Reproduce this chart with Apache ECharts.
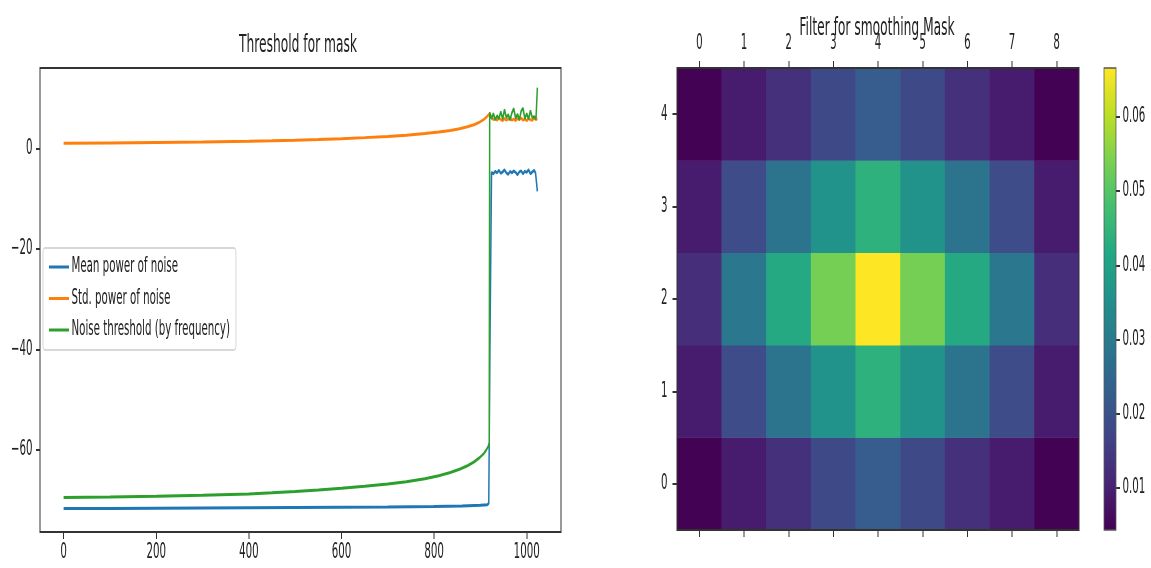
<!DOCTYPE html>
<html>
<head>
<meta charset="utf-8">
<script src="https://cdn.jsdelivr.net/npm/echarts@6/dist/echarts.min.js"></script>
<style>
html,body{margin:0;padding:0;background:#fff;overflow:hidden;width:1151px;height:568px}
#wrap{width:1151px;height:568px;overflow:hidden;position:relative;background:#fff}
#chart{position:absolute;left:0;top:0;height:568px;transform-origin:0 0}
</style>
</head>
<body>
<div id="wrap"><div id="chart"></div></div>
<script>
// ---------------- data ----------------
const meanPower = [[0,-71.7],[100,-71.7],[200,-71.65],[300,-71.6],[400,-71.55],[500,-71.5],[600,-71.45],[700,-71.4],[800,-71.3],[860,-71.2],[900,-71.05],[915,-70.95],[918,-70.7],[921,-35.0],[924,-4.7],[928,-5.0],[932,-4.5],[936,-4.8],[940,-4.3],[944,-4.9],[948,-4.6],[952,-4.2],[956,-4.8],[960,-5.1],[964,-4.5],[968,-4.8],[972,-4.4],[976,-4.7],[980,-5.2],[984,-4.6],[988,-4.4],[992,-5.0],[996,-4.5],[1000,-4.7],[1004,-4.2],[1008,-5.0],[1012,-4.6],[1016,-4.3],[1019,-4.8],[1021,-5.0],[1023,-8.5]];
const stdPower = [[0,1.1],[100,1.17],[200,1.26],[300,1.37],[400,1.51],[450,1.6],[500,1.71],[550,1.85],[600,2.02],[650,2.22],[700,2.46],[740,2.7],[780,3.02],[810,3.32],[835,3.65],[855,4.0],[872,4.38],[886,4.8],[898,5.3],[907,5.8],[913,6.3],[917,6.7],[920,7.1],[924,6.3],[928,5.8],[932,6.0],[936,5.7],[940,6.1],[944,5.8],[948,5.6],[952,6.0],[956,5.7],[960,5.9],[964,6.2],[968,5.7],[972,5.9],[976,5.6],[980,6.0],[984,5.8],[988,6.1],[992,5.7],[996,5.9],[1000,5.6],[1004,6.0],[1008,5.8],[1012,5.7],[1016,6.1],[1020,5.8],[1023,6.0]];
const noiseThreshold = [[0,-69.5],[100,-69.42],[200,-69.28],[300,-69.08],[400,-68.8],[450,-68.6],[500,-68.35],[550,-68.05],[600,-67.7],[650,-67.3],[700,-66.85],[740,-66.4],[780,-65.8],[810,-65.2],[835,-64.55],[855,-63.9],[872,-63.2],[886,-62.45],[898,-61.6],[907,-60.8],[913,-60.0],[917,-59.3],[919,-58.6],[920,7.2],[924,6.0],[928,7.0],[932,5.8],[936,6.6],[940,6.0],[944,7.4],[948,5.9],[952,7.8],[956,6.2],[960,6.8],[964,5.7],[968,7.2],[972,8.0],[976,6.1],[980,6.9],[984,5.8],[988,7.5],[992,8.1],[996,6.0],[1000,7.0],[1004,5.9],[1008,7.6],[1012,6.2],[1016,6.4],[1020,6.0],[1023,12.2]];
const seriesNames = ['Mean power of noise','Std. power of noise','Noise threshold (by frequency)'];
const lineXTicks = [0,200,400,600,800,1000];
const lineYTicks = [-60,-40,-20,0];

const maskCols = ['0','1','2','3','4','5','6','7','8'];
const maskRowLabels = ['0','1','2','3','4'];
const maskRow0 = [0.0045,0.0090,0.0128,0.0182,0.0225,0.0182,0.0128,0.0090,0.0045];
const maskRow1 = [0.0090,0.0185,0.0280,0.0360,0.0440,0.0360,0.0280,0.0185,0.0090];
const maskRow2 = [0.0125,0.0290,0.0420,0.0535,0.0666,0.0535,0.0420,0.0290,0.0125];
const maskRow3 = [0.0090,0.0185,0.0280,0.0360,0.0440,0.0360,0.0280,0.0185,0.0090];
const maskRow4 = [0.0045,0.0090,0.0128,0.0182,0.0225,0.0182,0.0128,0.0090,0.0045];
const colorbarTicks = [0.01,0.02,0.03,0.04,0.05,0.06];
const colorMin = 0.0043, colorMax = 0.0666;

// ---------------- build ----------------
const viridis = ['#440154','#482475','#414487','#355f8d','#2a788e','#21918c','#22a884','#44bf70','#7ad151','#bddf26','#fde725'];
const maskRows = [maskRow0,maskRow1,maskRow2,maskRow3,maskRow4];
const heatData = [];
maskRows.forEach((row, r) => row.forEach((v, c) => heatData.push([c, r, v])));

const S = 0.5; // the reference figure is horizontally compressed
const X = v => v / S;
const el = document.getElementById('chart');
el.style.width = (1151 / S) + 'px';
el.style.transform = 'scaleX(' + S + ')';

const FONT = 'DejaVu Sans';
const TXT = '#222';
const FS = 20.5;
const tickStyle = {color:'#333', width:2};
const minus = v => String(v).replace('-', '\u2212');

const chart = echarts.init(el, null, {renderer:'canvas'});
chart.setOption({
  animation:false,
  backgroundColor:'#fff',
  textStyle:{fontFamily:FONT},
  title:[
    {text:'Threshold for mask', left:X(298), top:33, textAlign:'center', padding:0,
     textStyle:{fontSize:24.5, fontWeight:'normal', color:TXT, fontFamily:FONT}},
    {text:'Filter for smoothing Mask', left:X(877), top:16, textAlign:'center', padding:0,
     textStyle:{fontSize:24.5, fontWeight:'normal', color:TXT, fontFamily:FONT}}
  ],
  legend:{
    data:seriesNames, orient:'vertical', left:X(43), top:248,
    padding:[8,12,9,12], itemGap:9.5, itemWidth:40, itemHeight:3, icon:'rect',
    textStyle:{fontSize:FS, color:TXT, lineHeight:22, fontFamily:FONT},
    borderColor:'#ccc', borderWidth:1.5, borderRadius:4, backgroundColor:'rgba(255,255,255,0.85)'
  },
  grid:[
    {left:X(40), top:68, width:X(521), height:464, show:true, borderColor:'#333', borderWidth:2, backgroundColor:'transparent', z:10},
    {left:X(677), top:68, width:X(402), height:462, show:true, borderColor:'#333', borderWidth:2, backgroundColor:'transparent', z:10},
    {left:X(1104), top:68, width:X(12), height:462, show:true, borderColor:'#555', borderWidth:1.5, backgroundColor:'transparent', z:10}
  ],
  xAxis:[
    {gridIndex:0, type:'value', min:-51, max:1074, axisLine:{show:false, onZero:false}, splitLine:{show:false},
     axisTick:{show:true, length:7, lineStyle:tickStyle, customValues:lineXTicks},
     axisLabel:{customValues:lineXTicks, margin:10, fontSize:FS, color:TXT, fontFamily:FONT, formatter:v => String(v)}},
    {gridIndex:1, type:'category', position:'top', data:maskCols, axisLine:{show:false, onZero:false}, splitLine:{show:false},
     axisTick:{show:true, alignWithLabel:true, interval:0, length:7, lineStyle:tickStyle},
     axisLabel:{interval:0, margin:14, fontSize:FS, color:TXT, fontFamily:FONT}},
    {gridIndex:1, type:'category', position:'bottom', data:maskCols, axisLine:{show:false, onZero:false}, splitLine:{show:false},
     axisTick:{show:true, alignWithLabel:true, interval:0, length:7, lineStyle:tickStyle},
     axisLabel:{show:false}},
    {gridIndex:2, type:'category', data:['colorbar'], show:false}
  ],
  yAxis:[
    {gridIndex:0, type:'value', min:-76.4, max:16.1, axisLine:{show:false, onZero:false}, splitLine:{show:false},
     axisTick:{show:true, length:8, lineStyle:tickStyle, customValues:lineYTicks},
     axisLabel:{customValues:lineYTicks, margin:15, fontSize:FS, color:TXT, fontFamily:FONT, formatter:minus}},
    {gridIndex:1, type:'category', data:maskRowLabels, axisLine:{show:false, onZero:false}, splitLine:{show:false},
     axisTick:{show:true, alignWithLabel:true, interval:0, length:9, lineStyle:tickStyle},
     axisLabel:{interval:0, margin:19, fontSize:FS, color:TXT, fontFamily:FONT}},
    {gridIndex:2, type:'value', position:'right', min:colorMin, max:colorMax, axisLine:{show:false, onZero:false}, splitLine:{show:false},
     axisTick:{show:true, length:8, lineStyle:tickStyle, customValues:colorbarTicks},
     axisLabel:{customValues:colorbarTicks, margin:13, fontSize:FS, color:TXT, fontFamily:FONT,
                formatter:v => v.toFixed(2)}}
  ],
  visualMap:{show:false, min:colorMin, max:colorMax, seriesIndex:3, dimension:2, inRange:{color:viridis}},
  series:[
    {name:seriesNames[0], type:'line', xAxisIndex:0, yAxisIndex:0, data:meanPower, symbol:'none', showSymbol:false,
     color:'#1f77b4', lineStyle:{width:3, color:'#1f77b4'}, z:2},
    {name:seriesNames[1], type:'line', xAxisIndex:0, yAxisIndex:0, data:stdPower, symbol:'none', showSymbol:false,
     color:'#ff7f0e', lineStyle:{width:3, color:'#ff7f0e'}, z:3},
    {name:seriesNames[2], type:'line', xAxisIndex:0, yAxisIndex:0, data:noiseThreshold, symbol:'none', showSymbol:false,
     color:'#2ca02c', lineStyle:{width:3, color:'#2ca02c'}, z:4},
    {type:'heatmap', xAxisIndex:1, yAxisIndex:1, data:heatData, itemStyle:{borderWidth:0}, emphasis:{disabled:true}},
    {type:'bar', xAxisIndex:3, yAxisIndex:2, data:[colorMax], barWidth:'100%', silent:true, clip:true,
     itemStyle:{color:{type:'linear', x:0, y:1, x2:0, y2:0,
       colorStops:viridis.map((c,i) => ({offset:i/(viridis.length-1), color:c}))}}}
  ]
});
</script>
</body>
</html>
